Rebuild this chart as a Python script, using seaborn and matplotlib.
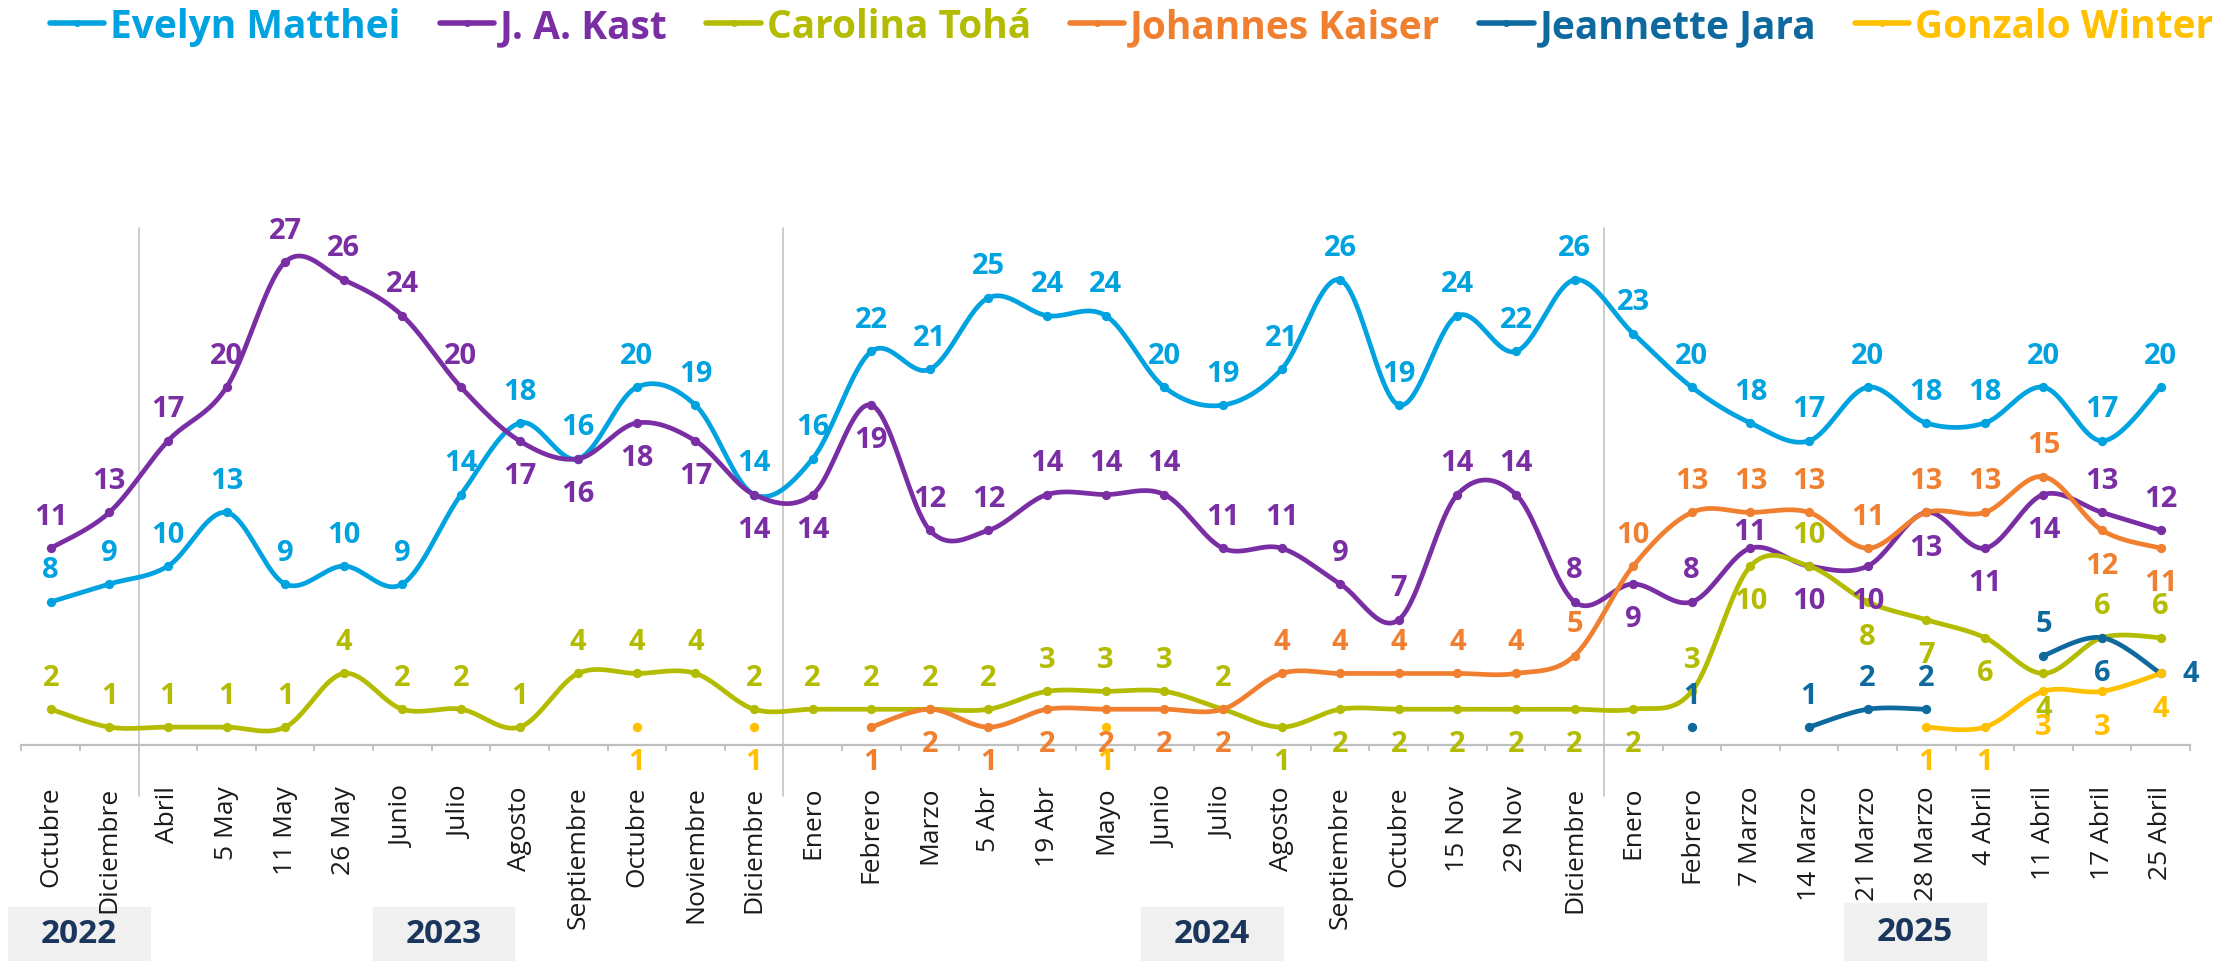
import numpy as np
import pandas as pd
import matplotlib
matplotlib.use("Agg")
import matplotlib.pyplot as plt
from matplotlib.lines import Line2D
from matplotlib.patches import Rectangle
import seaborn as sns

# Datos de la encuesta
fechas = ["Octubre", "Diciembre", "Abril", "5 May", "11 May", "26 May", "Junio", "Julio",
          "Agosto", "Septiembre", "Octubre", "Noviembre", "Diciembre",
          "Enero", "Febrero", "Marzo", "5 Abr", "19 Abr", "Mayo", "Junio", "Julio",
          "Agosto", "Septiembre", "Octubre", "15 Nov", "29 Nov", "Diciembre",
          "Enero", "Febrero", "7 Marzo", "14 Marzo", "21 Marzo", "28 Marzo",
          "4 Abril", "11 Abril", "17 Abril", "25 Abril"]
anios = ["2022", "2023", "2024", "2025"]

nan = np.nan
matthei = [8, 9, 10, 13, 9, 10, 9, 14, 18, 16, 20, 19, 14,
           16, 22, 21, 25, 24, 24, 20, 19, 21, 26, 19, 24, 22, 26,
           23, 20, 18, 17, 20, 18, 18, 20, 17, 20]
kast = [11, 13, 17, 20, 27, 26, 24, 20, 17, 16, 18, 17, 14,
        14, 19, 12, 12, 14, 14, 14, 11, 11, 9, 7, 14, 14, 8,
        9, 8, 11, 10, 10, 13, 11, 14, 13, 12]
toha = [2, 1, 1, 1, 1, 4, 2, 2, 1, 4, 4, 4, 2,
        2, 2, 2, 2, 3, 3, 3, 2, 1, 2, 2, 2, 2, 2,
        2, 3, 10, 10, 8, 7, 6, 4, 6, 6]
kaiser = [nan] * 14 + [1, 2, 1, 2, 2, 2, 2, 4, 4, 4, 4, 4, 5,
                       10, 13, 13, 13, 11, 13, 13, 15, 12, 11]
jara = [nan] * 28 + [1, nan, 1, 2, 2, nan, 5, 6, 4]
winter = [nan] * 10 + [1, nan, 1] + [nan] * 5 + [1] + [nan] * 13 + [1, 1, 3, 3, 4]

# Estilo de cada serie: nombre, valores, color, posicion de etiquetas (a=arriba, b=abajo, r=derecha)
series = [
    ("Evelyn Matthei", matthei, "#00a3e0", "a" * 37),
    ("J. A. Kast", kast, "#7a2ea3",
     "aaaaaaaa" + "bbbbbbb" + "aaaaaaaaaaaa" + "b" + "aa" + "bbbbb" + "aa"),
    ("Carolina Tohá", toha, "#b3bc00",
     "a" * 21 + "bbbbbbb" + "abab" + "bbb" + "aa"),
    ("Johannes Kaiser", kaiser, "#f08030", "-" * 14 + "b" * 7 + "a" * 14 + "bb"),
    ("Jeannette Jara", jara, "#0e6a9e", "-" * 28 + "a-aaa-abr"),
    ("Gonzalo Winter", winter, "#ffc000",
     "-" * 10 + "b-b" + "-" * 5 + "b" + "-" * 13 + "bbbbb"),
]

W, H = 2237, 962


def suavizar(x, y, n=24):
    # curva suavizada tipo Excel (Bezier / Catmull-Rom)
    p = np.column_stack([x, y]).astype(float)
    out = [p[:1]]
    t = np.linspace(0, 1, n)[1:, None]
    for i in range(len(p) - 1):
        p0 = p[i - 1] if i > 0 else p[i]
        p3 = p[i + 2] if i + 2 < len(p) else p[i + 1]
        c1 = p[i] + (p[i + 1] - p0) / 6
        c2 = p[i + 1] - (p3 - p[i]) / 6
        b = (1 - t) ** 3 * p[i] + 3 * (1 - t) ** 2 * t * c1 + 3 * (1 - t) * t ** 2 * c2 + t ** 3 * p[i + 1]
        out.append(b)
    return np.vstack(out)


sns.set_theme(style="white")
plt.rcParams["font.family"] = ["Open Sans", "DejaVu Sans"]

fig = plt.figure(figsize=(W / 100, H / 100), dpi=100)
eje_izq, eje_der, eje_arriba, eje_abajo = 21.4, 2190, 229, 746
ax = fig.add_axes([eje_izq / W, 1 - eje_abajo / H, (eje_der - eje_izq) / W, (eje_abajo - eje_arriba) / H])
ax.patch.set_alpha(0)

x = np.arange(len(fechas))
for nombre, vals, color, pos in series:
    vals = np.array(vals, dtype=float)
    ok = ~np.isnan(vals)
    # separar en tramos continuos
    tramos = []
    actual = []
    for i in range(len(vals)):
        if ok[i]:
            actual.append(i)
        elif actual:
            tramos.append(actual)
            actual = []
    if actual:
        tramos.append(actual)
    for k, tr in enumerate(tramos):
        if len(tr) > 1:
            curva = suavizar(x[tr], vals[tr])
            df = pd.DataFrame({"x": curva[:, 0], "y": curva[:, 1]})
            sns.lineplot(data=df, x="x", y="y", color=color, lw=3.4, sort=False,
                         estimator=None, ax=ax, zorder=3)
    dfp = pd.DataFrame({"x": x[ok], "y": vals[ok]})
    sns.scatterplot(data=dfp, x="x", y="y", color=color, s=45, linewidth=0, ax=ax, zorder=4)

# etiquetas de datos
for nombre, vals, color, pos in series:
    for i, v in enumerate(vals):
        if np.isnan(v):
            continue
        p = pos[i]
        dx, dy = 0, 23
        if p == "b":
            dy = -25
        elif p == "r":
            dx, dy = 22, 0
        if nombre == "J. A. Kast" and fechas[i] == "7 Marzo":
            dy = 12
        ax.annotate(f"{int(v)}", (i, v), xytext=(dx, dy), textcoords="offset points",
                    ha="center", va="center", fontsize=21, fontweight="bold",
                    color=color, zorder=6, annotation_clip=False)

ax.set_xlim(-0.5, len(fechas) - 0.5)
ax.set_ylim(0, 28.9)
ax.set_yticks([])
ax.set_xlabel("")
ax.set_ylabel("")
for s in ["top", "right", "left"]:
    ax.spines[s].set_visible(False)
ax.spines["bottom"].set_color("#bfbfbf")
ax.spines["bottom"].set_linewidth(1.6)
ax.set_xticks(x)
ax.set_xticklabels(fechas, rotation=90, fontsize=19, color="#1a1a1a")
ax.set_xticks(np.arange(-0.5, len(fechas)), minor=True)
ax.tick_params(axis="x", which="major", length=0, pad=29)
ax.tick_params(axis="x", which="minor", length=4.5, width=1.3, color="#bfbfbf", bottom=True)

# separadores de año
for sep in [1.5, 12.5, 26.5]:
    ax.axvline(sep, ymin=-(797 - eje_abajo) / (eje_abajo - eje_arriba), ymax=1,
               color="#c8c8c8", lw=1.3, clip_on=False, zorder=1)

# cajas de año (pixeles de la figura), por debajo del eje
cajas = [(8, 150, 908), (373, 514, 908), (1141, 1283, 908), (1844, 1986, 904)]
for anio, (x0, x1, y0) in zip(anios, cajas):
    fig.patches.append(Rectangle((x0 / W, 0), (x1 - x0) / W, 1 - y0 / H,
                                 transform=fig.transFigure, color="#f0f0f0", zorder=-1))
    fig.text((x0 + x1) / 2 / W, (1 - y0 / H) / 2, anio, ha="center", va="center",
             fontsize=24, fontweight="bold", color="#1b365d")

# leyenda
handles = [Line2D([0], [0], color=c, lw=4, marker="o", ms=4) for _, _, c, _ in series]
fig.legend(handles, [s[0] for s in series], loc="upper left", bbox_to_anchor=(50 / W, 1 - 8 / H),
           ncol=6, frameon=False, prop={"size": 28, "weight": "bold"}, handlelength=1.4,
           handletextpad=0.15, columnspacing=1.0, labelcolor="linecolor",
           borderpad=0, borderaxespad=0)

fig.savefig("out.png", dpi=100)
